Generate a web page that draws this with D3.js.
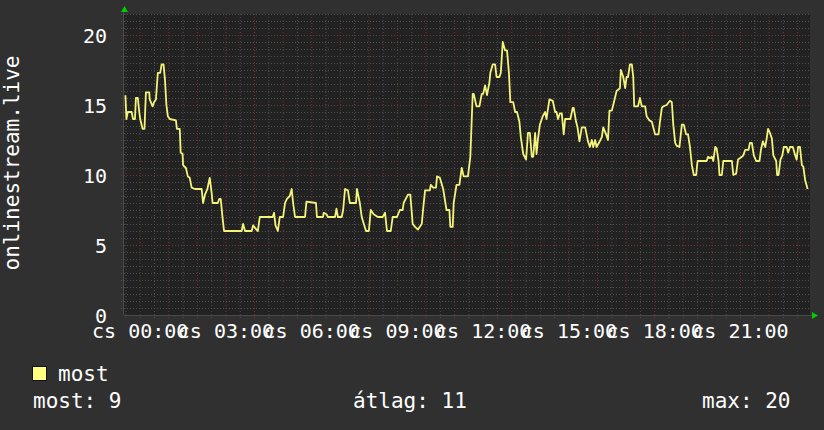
<!DOCTYPE html>
<html>
<head>
<meta charset="utf-8">
<script src="https://cdn.jsdelivr.net/npm/d3@7"></script>
<style>
  html, body { margin: 0; padding: 0; background: #303030; }
  svg { display: block; }
  text { font-family: "DejaVu Sans Mono", monospace; fill: #ffffff; }
</style>
</head>
<body>
<svg id="chart"></svg>
<script>
// minutes from thursday 00:00
const minutes = [-30,-28,-25,-17,-14,-10,-8,-4,-1,1,6,10,13,20,21,27,30,34,38,43,46,50,53,56,59,63,76,78,84,86,90,91,97,101,105,109,116,130,133,137,142,147,151,153,164,167,170,174,177,214,217,221,235,238,245,248,252,279,282,285,290,294,301,305,309,315,319,322,326,347,350,370,372,385,386,392,395,410,413,416,424,427,431,437,441,454,456,462,
  466,475,481,485,491,500,510,515,519,527,531,540,546,
  552,554,563,568,573,578,584,592,595,599,609,611,616,622,624,630,637,644,650,652,657,659,665,671,676,680,689,694,699,701,707,713,718,721,725,729,734,736,741,746,749,755,758,762,767,771,775,778,784,788,792,797,800,805,811,815,819,823,826,830,833,836,840,846,851,854,856,860,867,872,875,878,882,886,890,893,904,909,911,916,919,923,928,935,938,941,945,949,952,956,959,964,970,973,979,983,986,991,994,1001,1008,1010,1015,1019,1022,1025,1029,1033,1036,1038,1046,1050,1054,1061,1064,1070,1075,1078,1082,1089,1092,1096,1099,1106,1113,1117,1120,1124,1127,1133,1138,1142,1147,1151,1155,1159,1163,1168,1171,1190,1193,1197,1201,1204,1208,1211,1215,1217,1222,1225,1239,1243,1246,1252,1256,1264,1267,1271,1278,1281,1285,1289,1294,1301,1304,1308,1313,1316,1319,1323,1327,1330,1336,1338,1341,1345,1349,1352,1358,1361,1365,1371,1376,1379,1382,1386,1390,1393,1397,1402];
const values = [15.7,14.0,14.5,14.5,14.0,14.0,15.5,15.5,14.5,14.0,13.3,13.3,15.9,15.9,15.4,14.9,15.2,15.4,17.3,17.3,17.9,17.9,16.8,15.0,14.2,14.0,13.9,13.3,13.3,11.6,11.5,10.7,10.5,9.9,9.8,9.1,9.0,9.0,8.0,8.6,9.0,9.8,8.7,8.0,8.0,8.3,8.3,6.9,6.0,6.0,6.5,6.0,6.0,6.4,6.1,6.0,7.0,7.0,7.3,6.4,6.0,7.0,7.0,8.0,8.3,8.5,9.0,8.0,7.0,7.0,8.1,8.0,7.0,7.0,7.3,7.2,7.0,7.0,7.6,7.0,7.0,7.5,9.0,8.9,8.0,8.0,9.0,8.0,
  7.0,6.0,6.0,7.5,7.2,7.0,7.0,7.3,6.0,6.0,7.0,7.0,7.5,
  7.5,8.0,8.6,8.6,6.5,6.3,6.1,6.5,7.6,8.9,8.9,9.3,9.1,9.1,9.9,9.8,9.0,7.5,7.5,6.3,6.3,8.0,9.3,9.3,10.5,9.9,9.9,11.3,15.8,15.8,14.9,14.9,15.8,15.8,16.4,15.7,16.6,17.3,17.9,17.9,17.0,17.0,17.3,19.5,18.9,18.9,17.3,15.2,15.2,14.5,14.5,13.8,12.7,11.5,11.1,13.0,13.0,11.3,11.3,13.0,11.5,12.6,13.6,14.2,14.5,14.0,14.5,15.4,15.3,14.5,14.5,14.0,14.4,14.4,12.9,14.0,14.0,14.8,14.8,13.8,13.4,12.4,13.4,13.4,12.9,12.4,12.0,12.5,12.0,12.5,12.0,12.3,12.7,13.4,12.9,12.5,14.6,14.6,15.0,16.0,16.2,17.5,17.0,16.2,17.0,17.0,17.9,17.9,17.0,14.9,14.9,15.5,14.9,14.9,14.2,13.9,13.8,13.4,12.9,12.9,13.8,14.8,14.9,15.0,15.3,15.2,13.6,12.3,12.1,12.0,13.6,13.6,12.9,12.9,12.0,10.7,10.0,10.0,11.0,11.0,11.3,11.2,11.3,11.0,12.0,11.9,11.0,10.0,10.0,11.0,11.0,11.0,10.0,10.1,11.1,11.3,11.4,11.8,11.8,12.3,12.3,11.4,11.0,11.0,11.8,12.4,12.0,12.6,13.3,13.0,12.6,11.4,11.0,10.0,10.0,11.1,11.4,12.0,12.0,11.6,12.0,12.0,11.4,11.1,12.0,12.0,10.7,10.6,9.6,9.0];

const yTicks = [0, 5, 10, 15, 20];
const xTicks = [0, 180, 360, 540, 720, 900, 1080, 1260];
const xTickLabels = ["cs 00:00", "cs 03:00", "cs 06:00", "cs 09:00", "cs 12:00", "cs 15:00", "cs 18:00", "cs 21:00"];
const seriesName = "most";
const yTitle = "onlinestream.live";
const stats = [["most:", "9"], ["átlag:", "11"], ["max:", "20"]];

const width = 824, height = 430;
const plot = {left: 124, right: 810, top: 14, bottom: 315};

const svg = d3.select('#chart')
    .attr('width', width)
    .attr('height', height);

svg.append('rect')
    .attr('width', width).attr('height', height)
    .attr('fill', '#303030');

const xscale = d3.scaleLinear()
    .domain([-33, 1407])
    .range([plot.left, plot.right]);

const yscale = d3.scaleLinear()
    .domain([0, 21.5])
    .range([plot.bottom, plot.top]);

svg.append('rect')
    .attr('x', plot.left).attr('y', plot.top)
    .attr('width', plot.right - plot.left)
    .attr('height', plot.bottom - plot.top)
    .attr('fill', '#222222');

// grid
const grid = svg.append('g');
const minorX = d3.range(-30, 1407, 30).filter(d => d % 60 != 0);
const majorX = d3.range(0, 1407, 60);
const minorY = d3.range(0.5, 21.6, 0.5).filter(d => d % 5 != 0);
const majorY = [5, 10, 15, 20];

grid.selectAll('.mx').data(minorX).join('line')
    .attr('x1', d => xscale(d) + 0.5).attr('x2', d => xscale(d) + 0.5)
    .attr('y1', plot.top).attr('y2', plot.bottom + 3)
    .attr('stroke', '#4e4e4e').attr('stroke-dasharray', '1,2');
grid.selectAll('.my').data(minorY).join('line')
    .attr('x1', plot.left - 3).attr('x2', plot.right)
    .attr('y1', d => Math.round(yscale(d)) + 0.5).attr('y2', d => Math.round(yscale(d)) + 0.5)
    .attr('stroke', '#4e4e4e').attr('stroke-dasharray', '1,2');
grid.selectAll('.Mx').data(majorX).join('line')
    .attr('x1', d => xscale(d) + 0.5).attr('x2', d => xscale(d) + 0.5)
    .attr('y1', plot.top).attr('y2', plot.bottom + 3)
    .attr('stroke', '#703434').attr('stroke-dasharray', '1,2');
grid.selectAll('.My').data(majorY).join('line')
    .attr('x1', plot.left - 3).attr('x2', plot.right)
    .attr('y1', d => Math.round(yscale(d)) + 0.5).attr('y2', d => Math.round(yscale(d)) + 0.5)
    .attr('stroke', '#703434').attr('stroke-dasharray', '1,2');

// axis lines
svg.append('line')
    .attr('x1', plot.left - 0.5).attr('x2', plot.left - 0.5)
    .attr('y1', plot.top - 4).attr('y2', plot.bottom)
    .attr('stroke', '#4a4a4a');
svg.append('line')
    .attr('x1', plot.left).attr('x2', plot.right + 2)
    .attr('y1', plot.bottom + 0.5).attr('y2', plot.bottom + 0.5)
    .attr('stroke', '#4a4a4a');

// arrows
svg.append('path')
    .attr('d', `M${plot.left - 3},${plot.top - 2} L${plot.left + 4},${plot.top - 2} L${plot.left + 0.5},${plot.top - 8} Z`)
    .attr('fill', '#00cc00');
svg.append('path')
    .attr('d', `M${plot.right + 2},${plot.bottom - 3} L${plot.right + 2},${plot.bottom + 4} L${plot.right + 8},${plot.bottom + 0.5} Z`)
    .attr('fill', '#00cc00');

// axes labels
const yaxis = d3.axisLeft(yscale)
    .tickValues(yTicks)
    .tickSize(0)
    .tickPadding(17);
const yaxis_group = svg.append('g')
    .attr('transform', `translate(${plot.left}, 0)`)
    .call(yaxis);
yaxis_group.select('.domain').remove();
yaxis_group.selectAll('text')
    .attr('dy', '0.36em')
    .style('font-size', '20px')
    .style('font-family', '"DejaVu Sans Mono", monospace')
    .attr('fill', '#ffffff');

const xaxis = d3.axisBottom(xscale)
    .tickValues(xTicks)
    .tickFormat((d, i) => xTickLabels[i])
    .tickSize(0)
    .tickPadding(9);
const xaxis_group = svg.append('g')
    .attr('transform', `translate(0, ${plot.bottom})`)
    .call(xaxis);
xaxis_group.select('.domain').remove();
xaxis_group.selectAll('text')
    .style('font-size', '20px')
    .style('font-family', '"DejaVu Sans Mono", monospace')
    .attr('fill', '#ffffff');

svg.append('text')
    .attr('transform', `translate(19, 163) rotate(-90)`)
    .attr('text-anchor', 'middle')
    .style('font-size', '21px')
    .text(yTitle);

// line
const line = d3.line()
    .x((d, i) => xscale(minutes[i]))
    .y(d => yscale(d));

svg.append('path')
    .datum(values)
    .attr('d', line)
    .attr('fill', 'none')
    .attr('stroke', '#f4f47a')
    .attr('stroke-width', 1.8)
    .attr('stroke-linejoin', 'round');

// legend
svg.append('rect')
    .attr('x', 32.5).attr('y', 366.5)
    .attr('width', 14).attr('height', 14)
    .attr('fill', '#ffff80')
    .attr('stroke', '#111111');
svg.append('text')
    .attr('x', 58).attr('y', 381)
    .style('font-size', '21px')
    .text(seriesName);

const statX = [33, 353, 702];
svg.selectAll('.stat').data(stats).join('text')
    .attr('x', (d, i) => statX[i])
    .attr('y', 408)
    .style('font-size', '21px')
    .attr('xml:space', 'preserve')
    .text(d => `${d[0]} ${d[1]}`);
</script>
</body>
</html>
